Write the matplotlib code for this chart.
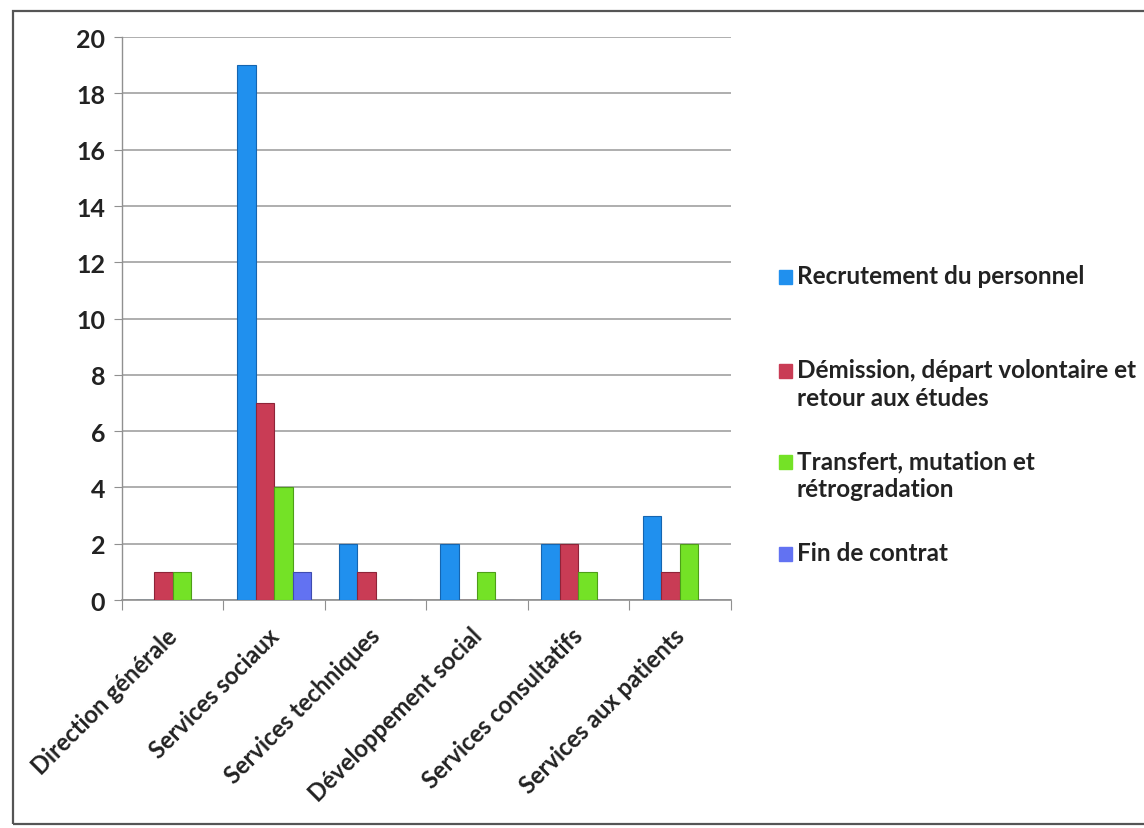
#!/usr/bin/env python3
"""Mouvements de personnel par direction, histogramme groupé."""

import numpy as np
import matplotlib
matplotlib.use("Agg")
import matplotlib.pyplot as plt
from matplotlib.patches import Rectangle

plt.rcParams['font.family'] = ['Lato', 'DejaVu Sans']

categories = ["Direction générale", "Services sociaux", "Services techniques",
              "Développement social", "Services consultatifs",
              "Services aux patients"]
series_names = ["Recrutement du personnel",
                "Démission, départ volontaire et\nretour aux études",
                "Transfert, mutation et\nrétrogradation",
                "Fin de contrat"]
recrutement = [0, 19, 2, 2, 2, 3]
demission = [1, 7, 1, 0, 2, 1]
transfert = [1, 4, 0, 1, 1, 2]
fin_contrat = [0, 1, 0, 0, 0, 0]
y_ticks = [0, 2, 4, 6, 8, 10, 12, 14, 16, 18, 20]

series_values = [recrutement, demission, transfert, fin_contrat]
colors = ["#2090EE", "#C93C55", "#74E226", "#6272F2"]
edges = ["#1565B0", "#8E2438", "#4E9E18", "#3F4CB0"]

fig = plt.figure(figsize=(11.44, 8.29), dpi=100)
ax = fig.add_axes([0.1066, 0.275, 0.532, 0.679])

# outer frame of the chart area
fig.patches.append(Rectangle((13 / 1144, 4 / 829), 1.2, 813 / 829,
                             transform=fig.transFigure, fill=False,
                             edgecolor="#555555", linewidth=1.6))

x = np.arange(len(categories))
bar_w = 0.182
for i, (vals, c, ec) in enumerate(zip(series_values, colors, edges)):
    ax.bar(x + (i - 1.5) * bar_w, vals, width=bar_w, color=c,
           edgecolor=ec, linewidth=0.8, zorder=3, label=series_names[i])

ax.set_xlim(-0.5, len(categories) - 0.5)
ax.set_ylim(0, 20)
ax.set_yticks(y_ticks)
ax.set_yticklabels([str(t) for t in y_ticks], fontsize=18, fontweight='bold',
                   color="#222222")
ax.yaxis.grid(True, color="#A8A8A8", linewidth=1.3, zorder=0)
ax.set_axisbelow(True)

# category ticks sit on the boundaries between groups
ax.set_xticks(np.arange(len(categories) + 1) - 0.5, minor=False)
ax.set_xticklabels([])
ax.set_xticks(x - 0.07, minor=True)
ax.set_xticklabels(categories, minor=True, rotation=45, ha='right',
                   va='top', rotation_mode='anchor', fontsize=17,
                   fontweight='bold', color="#222222")
ax.tick_params(axis='x', which='minor', length=0, pad=17)
ax.tick_params(axis='x', which='major', length=7, color="#909090")
ax.tick_params(axis='y', length=6, color="#909090", pad=6)

for side in ['top', 'right']:
    ax.spines[side].set_visible(False)
ax.spines['left'].set_color("#909090")
ax.spines['bottom'].set_color("#909090")
ax.spines['left'].set_linewidth(1.0)
ax.spines['bottom'].set_linewidth(1.2)

# legend on the right, square marker level with the first line of each label
legend_y = [278, 372, 463, 555]
for name, c, ly in zip(series_names, colors, legend_y):
    fig.patches.append(Rectangle((779 / 1144, 1 - (ly + 7) / 829),
                                 13 / 1144, 14 / 829,
                                 transform=fig.transFigure, color=c))
    fig.text(797 / 1144, 1 - (ly - 13) / 829, name, fontsize=17.5,
             fontweight='bold', color="#222222", va='top',
             linespacing=1.25, transform=fig.transFigure)

fig.savefig("out.png", dpi=100)
